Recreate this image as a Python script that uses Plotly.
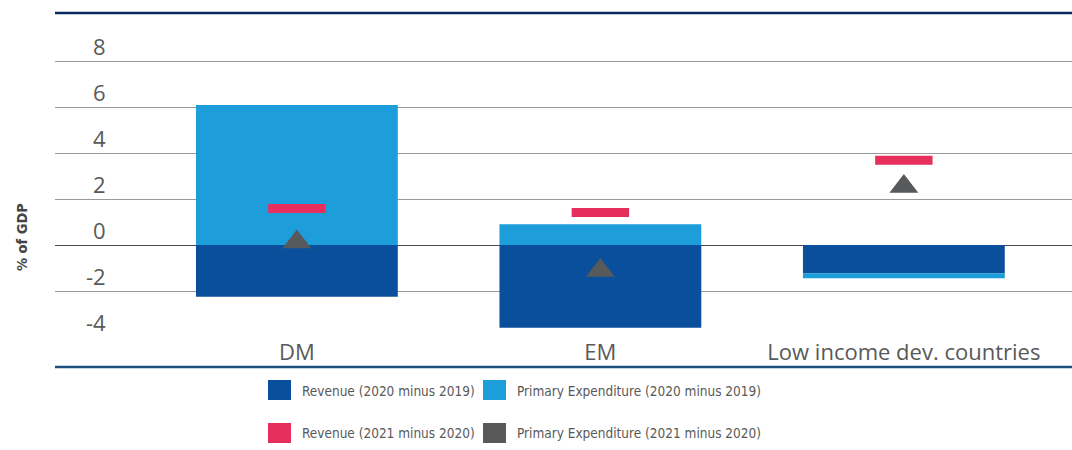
import plotly.graph_objects as go

# ---- data ----
categories = ["DM", "EM", "Low income dev. countries"]
revenue_2020 = [-2.25, -3.6, -1.23]
expenditure_2020 = [6.09, 0.9, -0.22]
revenue_2021 = [1.59, 1.41, 3.68]
expenditure_2021 = [0.13, -1.11, 2.54]
y_ticks = [8, 6, 4, 2, 0, -2, -4]
legend_labels = [
    "Revenue (2020 minus 2019)",
    "Primary Expenditure (2020 minus 2019)",
    "Revenue (2021 minus 2020)",
    "Primary Expenditure (2021 minus 2020)",
]

# ---- style ----
C_REV = "#0a4f9b"
C_EXP = "#1d9dd9"
C_REV21 = "#e62f5d"
C_EXP21 = "#58595b"
TXT = "#595959"
NARROW = "Liberation Sans Narrow, DejaVu Sans Condensed, Arial Narrow, sans-serif"
SANS = "Open Sans, Lato, sans-serif"

W, H = 1072, 450
L, R, T, B = 55, 0, 13, 113
PW = W - L - R
PH = H - T - B


def px_x(px):
    return (px - L) / PW


def px_y(py):
    return (H - B - py) / PH


fig = go.Figure()
fig.add_trace(go.Bar(x=categories, y=revenue_2020, marker=dict(color=C_REV, line=dict(width=0)),
                     width=0.665, name=legend_labels[0]))
fig.add_trace(go.Bar(x=categories, y=expenditure_2020, marker=dict(color=C_EXP, line=dict(width=0)),
                     width=0.665, name=legend_labels[1]))
fig.add_trace(go.Scatter(x=categories, y=revenue_2021, mode="markers", name=legend_labels[2],
                         marker=dict(symbol="line-ew", size=41,
                                     line=dict(width=9, color=C_REV21), color=C_REV21)))
fig.add_trace(go.Scatter(x=categories, y=expenditure_2021, mode="markers", name=legend_labels[3],
                         marker=dict(symbol="triangle-up", size=25, color=C_EXP21,
                                     line=dict(width=0))))

ymin = -4
ymax = ymin + PH / 23.0
fig.update_layout(
    width=W, height=H,
    margin=dict(l=L, r=R, t=T, b=B, pad=0),
    paper_bgcolor="white", plot_bgcolor="white",
    barmode="relative",
    showlegend=False,
    xaxis=dict(range=[-0.797, 2.554], showgrid=False, zeroline=False, showline=False,
               ticks="", tickfont=dict(family=SANS, size=22, color=TXT)),
    yaxis=dict(range=[ymin, ymax], tickvals=y_ticks, showticklabels=False,
               showgrid=True, gridcolor="#9a9a9a", gridwidth=1,
               zeroline=True, zerolinecolor="#4a4a4a", zerolinewidth=1,
               showline=False, ticks=""),
)

annotations = []
for v in y_ticks:
    annotations.append(dict(x=px_x(108), xref="paper", y=v, yref="y", text=str(v),
                            showarrow=False, xanchor="right", yanchor="middle", yshift=15,
                            font=dict(family=SANS, size=22, color=TXT)))

annotations.append(dict(x=px_x(22), xref="paper", y=px_y(237), yref="paper", text="<b>% of GDP</b>",
                        textangle=-90, showarrow=False, xanchor="center", yanchor="middle",
                        font=dict(family=NARROW, size=14.5, color="#444444")))

shapes = [
    dict(type="line", xref="paper", yref="paper", x0=px_x(55), x1=px_x(1072), y0=px_y(13), y1=px_y(13),
         line=dict(color="#0d2a5e", width=2.5)),
    dict(type="line", xref="paper", yref="paper", x0=px_x(55), x1=px_x(1072), y0=px_y(367), y1=px_y(367),
         line=dict(color="#1b4f7e", width=2.5)),
]

legend_colors = [C_REV, C_EXP, C_REV21, C_EXP21]
col_x = [268, 483]
row_y = [380, 423]
for i, (lab, col) in enumerate(zip(legend_labels, legend_colors)):
    cx = col_x[i % 2]
    ry = row_y[i // 2]
    shapes.append(dict(type="rect", xref="paper", yref="paper",
                       x0=px_x(cx), x1=px_x(cx + 23), y0=px_y(ry), y1=px_y(ry + 20),
                       fillcolor=col, line=dict(width=0)))
    annotations.append(dict(x=px_x(cx + 32), xref="paper", y=px_y(ry + 10.5), yref="paper",
                            text=lab, showarrow=False, xanchor="left", yanchor="middle",
                            font=dict(family=NARROW, size=13.5, color=TXT)))

fig.update_layout(annotations=annotations, shapes=shapes)
fig.write_html("out.html", config={"displayModeBar": False},
               post_script="document.body.style.margin='0px';")
